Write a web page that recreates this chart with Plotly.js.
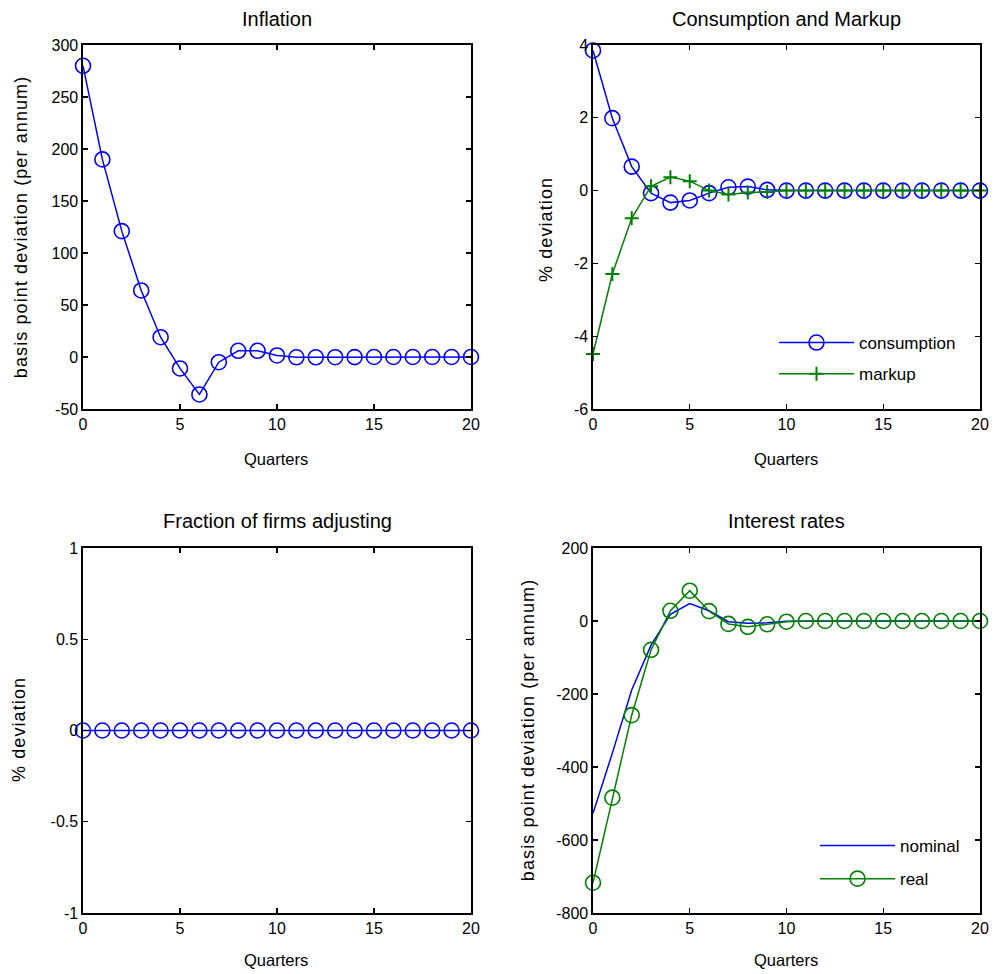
<!DOCTYPE html>
<html>
<head>
<meta charset="utf-8">
<script src="https://cdn.plot.ly/plotly-3.0.1.min.js"></script>
<style>
html,body{margin:0;padding:0;background:#fff;}
#chart{width:995px;height:974px;}
g.annotation[data-index="8"] text, g.annotation[data-index="9"] text,
g.annotation[data-index="10"] text, g.annotation[data-index="11"] text{letter-spacing:1.1px;}
</style>
</head>
<body>
<div id="chart"></div>
<script>
var quarters = [0,1,2,3,4,5,6,7,8,9,10,11,12,13,14,15,16,17,18,19,20];
var inflation = [280, 190, 121, 64, 19, -11, -36, -5, 6, 6, 1.5, -0.3, -0.3, -0.2, -0.1, 0, 0, 0, 0, 0, 0];
var consumption = [3.85, 1.99, 0.66, -0.07, -0.33, -0.27, -0.07, 0.09, 0.11, 0.02, 0, 0, 0, 0, 0, 0, 0, 0, 0, 0, 0];
var markup = [-4.49, -2.29, -0.76, 0.12, 0.37, 0.26, 0.0, -0.11, -0.05, -0.04, 0, 0, 0, 0, 0, 0, 0, 0, 0, 0, 0];
var fraction = [0,0,0,0,0,0,0,0,0,0,0,0,0,0,0,0,0,0,0,0,0];
var nominal = [-527, -362, -189, -66, 18, 48, 28, -2, -6, -5, -1, 0, 0, 0, 0, 0, 0, 0, 0, 0, 0];
var realRate = [-717, -484, -258, -79, 28, 83, 27, -8, -16, -9, -2, 0, 0, 0, 0, 0, 0, 0, 0, 0, 0];

var xTicks = [0,5,10,15,20];
var xTickText = ['0','5','10','15','20'];
var inflTicks = [-50,0,50,100,150,200,250,300];
var inflTickText = ['-50','0','50','100','150','200','250','300'];
var consTicks = [-6,-4,-2,0,2,4];
var consTickText = ['-6','-4','-2','0','2','4'];
var fracTicks = [-1,-0.5,0,0.5,1];
var fracTickText = ['-1','-0.5','0','0.5','1'];
var rateTicks = [-800,-600,-400,-200,0,200];
var rateTickText = ['-800','-600','-400','-200','0','200'];

var BLUE = '#0000ff', GREEN = '#008000';
var FONT = 'Liberation Sans, Arial, sans-serif';
var W = 995, H = 974;
function px(x){return x/W;}
function py(y){return 1 - y/H;}

function circ(c){return {color:c, symbol:'circle-open', size:15, line:{width:1.6, color:c}};}
var traces = [
  {x:quarters, y:inflation, xaxis:'x', yaxis:'y', mode:'lines+markers', cliponaxis:false,
   line:{color:BLUE, width:1.5}, marker:circ(BLUE), showlegend:false},
  {x:quarters, y:consumption, xaxis:'x2', yaxis:'y2', mode:'lines+markers', cliponaxis:false, name:'consumption',
   line:{color:BLUE, width:1.5}, marker:circ(BLUE), legend:'legend', legendgroup:'a'},
  {x:quarters, y:markup, xaxis:'x2', yaxis:'y2', mode:'lines+markers', cliponaxis:false, name:'markup',
   line:{color:GREEN, width:1.5}, marker:{color:GREEN, symbol:'cross-thin-open', size:10, line:{width:2, color:GREEN}}, legend:'legend', legendgroup:'b'},
  {x:quarters, y:fraction, xaxis:'x3', yaxis:'y3', mode:'lines+markers', cliponaxis:false,
   line:{color:BLUE, width:1.5}, marker:circ(BLUE), showlegend:false},
  {x:quarters, y:nominal, xaxis:'x4', yaxis:'y4', mode:'lines', cliponaxis:false, name:'nominal',
   line:{color:BLUE, width:1.5}, legend:'legend2', legendgroup:'c'},
  {x:quarters, y:realRate, xaxis:'x4', yaxis:'y4', mode:'lines+markers', cliponaxis:false, name:'real',
   line:{color:GREEN, width:1.5}, marker:circ(GREEN), legend:'legend2', legendgroup:'d'}
];

var common = {ticks:'inside', ticklen:5, tickwidth:1.3, tickcolor:'#000', showline:true, linecolor:'#000',
  linewidth:1.6, mirror:'ticks', showgrid:false, zeroline:false, tickmode:'array',
  tickfont:{family:FONT, size:16, color:'#000'}, fixedrange:true};
function xa(dom, anchor){
  return Object.assign({domain:dom, anchor:anchor, range:[0,20], tickvals:xTicks, ticktext:xTickText}, common);
}
function ya(dom, anchor, range, tv, tt){
  return Object.assign({domain:dom, anchor:anchor, range:range, tickvals:tv, ticktext:tt}, common);
}
var dxL = [px(83), px(471)], dxR = [px(593), px(980)];
var dyT = [py(409), py(45)], dyB = [py(913), py(548)];

function ann(text, x, y, size, angle){
  return {text:text, x:px(x), y:py(y), xref:'paper', yref:'paper', showarrow:false, xanchor:'center', yanchor:'middle',
    textangle:angle||0, font:{family:FONT, size:size, color:'#000'}};
}

var legFont = {family:FONT, size:17, color:'#000'};
var layout = {
  width:W, height:H, margin:{l:0, r:0, t:0, b:0}, paper_bgcolor:'#fff', plot_bgcolor:'#fff',
  xaxis:xa(dxL,'y'), yaxis:ya(dyT,'x',[-50,300],inflTicks,inflTickText),
  xaxis2:xa(dxR,'y2'), yaxis2:ya(dyT,'x2',[-6,4],consTicks,consTickText),
  xaxis3:xa(dxL,'y3'), yaxis3:ya(dyB,'x3',[-1,1],fracTicks,fracTickText),
  xaxis4:xa(dxR,'y4'), yaxis4:ya(dyB,'x4',[-800,200],rateTicks,rateTickText),
  legend:{x:px(774), y:py(325), xanchor:'left', yanchor:'top', bgcolor:'rgba(0,0,0,0)', borderwidth:0,
    font:legFont, traceorder:'grouped', tracegroupgap:6, itemwidth:75},
  legend2:{x:px(815), y:py(828), xanchor:'left', yanchor:'top', bgcolor:'rgba(0,0,0,0)', borderwidth:0,
    font:legFont, traceorder:'grouped', tracegroupgap:8, itemwidth:75},
  annotations:[
    ann('Inflation', 277, 19, 20),
    ann('Consumption and Markup', 786, 19, 20),
    ann('Fraction of firms adjusting', 277, 521, 20),
    ann('Interest rates', 786, 521, 20),
    ann('Quarters', 276, 459, 16.5),
    ann('Quarters', 786, 459, 16.5),
    ann('Quarters', 276, 960, 16.5),
    ann('Quarters', 786, 960, 16.5),
    ann('basis point deviation (per annum)', 21, 227, 18, -90),
    ann('% deviation', 546, 230, 18, -90),
    ann('% deviation', 19, 730, 18, -90),
    ann('basis point deviation (per annum)', 528, 730, 18, -90)
  ]
};
Plotly.newPlot('chart', traces, layout, {staticPlot:true, displayModeBar:false});
</script>
</body>
</html>
